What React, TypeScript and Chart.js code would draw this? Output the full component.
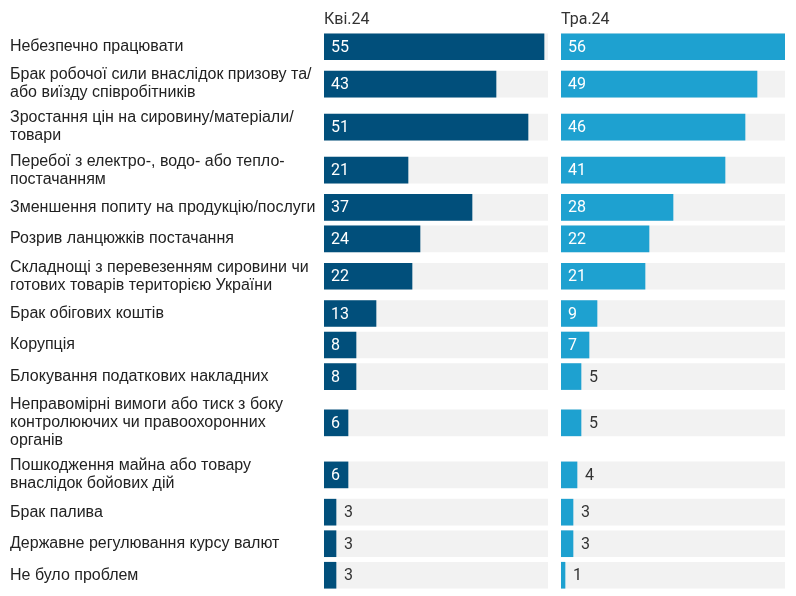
import React, { useEffect, useRef } from "react";
import { Chart, registerables } from "chart.js";

Chart.register(...registerables);

const categories: string[][] = [
  ["Небезпечно працювати"],
  ["Брак робочої сили внаслідок призову та/", "або виїзду співробітників"],
  ["Зростання цін на сировину/матеріали/", "товари"],
  ["Перебої з електро-, водо- або тепло-", "постачанням"],
  ["Зменшення попиту на продукцію/послуги"],
  ["Розрив ланцюжків постачання"],
  ["Складнощі з перевезенням сировини чи", "готових товарів територією України"],
  ["Брак обігових коштів"],
  ["Корупція"],
  ["Блокування податкових накладних"],
  ["Неправомірні вимоги або тиск з боку", "контролюючих чи правоохоронних", "органів"],
  ["Пошкодження майна або товару", "внаслідок бойових дій"],
  ["Брак палива"],
  ["Державне регулювання курсу валют"],
  ["Не було проблем"],
];

const seriesNames = ["Кві.24", "Тра.24"];
const aprilValues = [55, 43, 51, 21, 37, 24, 22, 13, 8, 8, 6, 6, 3, 3, 3];
const mayValues = [56, 49, 46, 41, 28, 22, 21, 9, 7, 5, 5, 4, 3, 3, 1];

const colors = ["#014f7b", "#1ea1d0"];
const trackColor = "#f2f2f2";
const LINE_H = 18;
const MIN_ROW = 31.5;

function rowLayout() {
  const heights = categories.map((l) => Math.max(MIN_ROW, l.length * LINE_H + 7));
  const centers: number[] = [];
  let acc = 0;
  heights.forEach((h) => {
    centers.push(acc + h / 2);
    acc += h;
  });
  return { centers, total: acc };
}

const maxVal = Math.max(...aprilValues, ...mayValues);

const valueLabelPlugin = {
  id: "valueLabels",
  afterDatasetsDraw(chart: any) {
    const ctx = chart.ctx;
    const meta = chart.getDatasetMeta(1);
    const values = chart.data.datasets[1].data;
    ctx.save();
    ctx.font = "16px Roboto";
    ctx.textBaseline = "middle";
    ctx.textAlign = "left";
    meta.data.forEach((bar: any, i: number) => {
      const v = values[i].x;
      const w = bar.x - bar.base;
      if (w >= 24) {
        ctx.fillStyle = "#ffffff";
        ctx.fillText(String(v), bar.base + 7, bar.y + 1);
      } else {
        ctx.fillStyle = "#333333";
        ctx.fillText(String(v), bar.x + 8, bar.y + 1);
      }
    });
    ctx.restore();
  },
};

function makeConfig(values: number[], idx: number, showLabels: boolean): any {
  const { centers, total } = rowLayout();
  return {
    type: "bar",
    data: {
      datasets: [
        {
          label: "track",
          data: centers.map((c) => ({ x: maxVal, y: c })),
          backgroundColor: trackColor,
          barThickness: 26,
          grouped: false,
          order: 2,
        },
        {
          label: seriesNames[idx],
          data: values.map((v, i) => ({ x: v, y: centers[i] })),
          backgroundColor: colors[idx],
          barThickness: 26,
          grouped: false,
          order: 1,
        },
      ],
    },
    options: {
      indexAxis: "y",
      responsive: false,
      animation: false,
      layout: { padding: { left: showLabels ? 10 : 9, right: showLabels ? 4 : 11, top: 0, bottom: 5 } },
      plugins: { legend: { display: false }, tooltip: { enabled: false }, title: { display: false } },
      scales: {
        x: {
          type: "linear",
          position: "top",
          min: 0,
          max: maxVal,
          offset: false,
          ticks: { display: false },
          grid: { display: false },
          border: { display: false },
          title: {
            display: true,
            text: seriesNames[idx],
            align: "start",
            color: "#333333",
            font: { family: "Roboto", size: 16 },
            padding: { top: 10, bottom: 0 },
          },
          afterFit: (s: any) => {
            s.height = 31;
            s.paddingLeft = 0;
            s.paddingRight = 0;
          },
        },
        y: {
          type: "linear",
          reverse: true,
          min: 0,
          max: total,
          offset: false,
          display: showLabels,
          grid: { display: false, offset: false },
          border: { display: false },
          afterBuildTicks: (s: any) => {
            s.ticks = centers.map((c) => ({ value: c }));
          },
          afterFit: (s: any) => {
            if (showLabels) s.width = 314;
            s.paddingTop = 0;
            s.paddingBottom = 0;
          },
          ticks: {
            autoSkip: false,
            crossAlign: "far",
            padding: 0,
            color: "#222222",
            font: { family: "Liberation Sans", size: 16, lineHeight: LINE_H / 16 },
            callback: (_v: any, i: number) => categories[i],
          },
        },
      },
    },
    plugins: [valueLabelPlugin],
  };
}

export default function App() {
  const leftRef = useRef<HTMLCanvasElement>(null);
  const rightRef = useRef<HTMLCanvasElement>(null);

  useEffect(() => {
    const a = new Chart(leftRef.current!, makeConfig(aprilValues, 0, true));
    const b = new Chart(rightRef.current!, makeConfig(mayValues, 1, false));
    return () => {
      a.destroy();
      b.destroy();
    };
  }, []);

  return (
    <div style={{ position: "absolute", left: 0, top: 0, width: 796, height: 596, background: "#fff" }}>
      <canvas ref={leftRef} width={552} height={596} style={{ position: "absolute", left: 0, top: 0 }} />
      <canvas ref={rightRef} width={244} height={596} style={{ position: "absolute", left: 552, top: 0 }} />
    </div>
  );
}
